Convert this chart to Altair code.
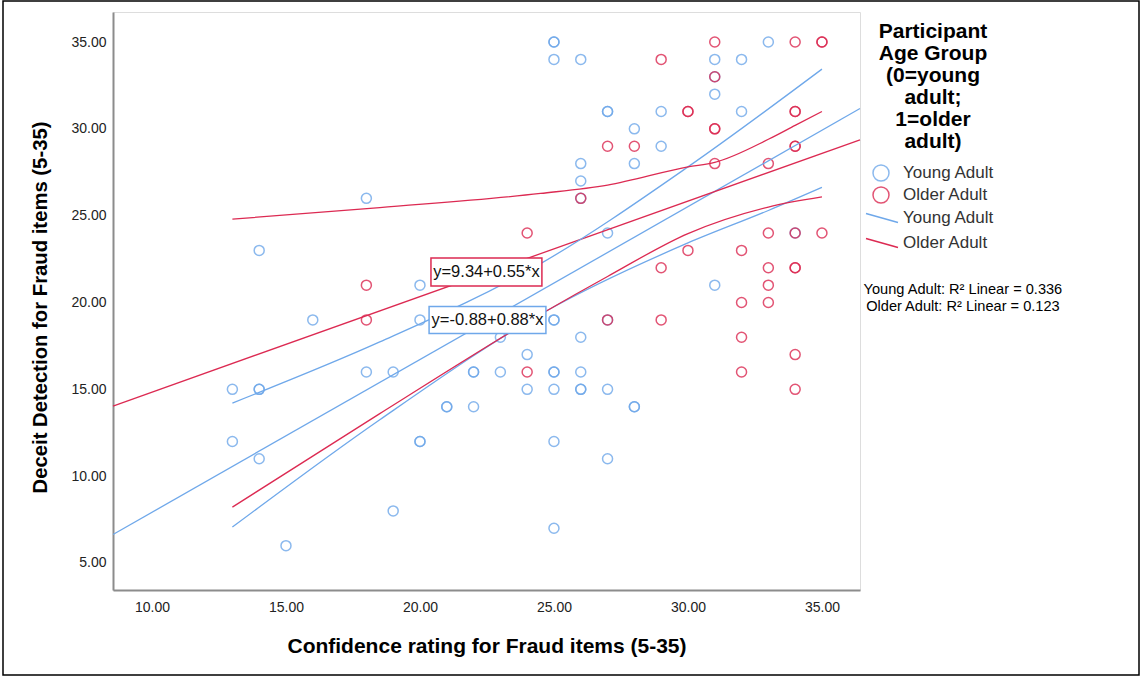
import altair as alt
import pandas as pd

BLUE = "#6fa8ea"
RED = "#dc2a52"
GROUPS = ["Young Adult", "Older Adult"]

# ---- scatter points (Confidence, Deceit detection) ----
young_x = [13, 13, 14, 14, 14, 14, 15, 16, 18, 18, 19, 19, 20, 20, 20, 20, 21, 21,
           22, 22, 22, 23, 23, 24, 24,
           25, 25, 25, 25, 25, 25, 25, 25, 25, 25,
           26, 26, 26, 26, 26, 26, 26, 26,
           27, 27, 27, 27, 27, 27, 28, 28, 28, 28, 29, 29,
           31, 31, 31, 31, 32, 32, 33, 34]
young_y = [15, 12, 23, 15, 15, 11, 6, 19, 26, 16, 16, 8, 21, 19, 12, 12, 14, 14,
           16, 16, 14, 18, 16, 17, 15,
           35, 35, 34, 19, 19, 16, 16, 15, 12, 7,
           34, 28, 27, 26, 18, 16, 15, 15,
           31, 31, 24, 19, 15, 11, 30, 28, 14, 14, 31, 29,
           34, 33, 32, 21, 34, 31, 35, 24]

older_x = [18, 18, 24, 24, 26, 27, 27, 28, 29, 29, 29, 30, 30, 30,
           31, 31, 31, 31, 31, 32, 32, 32, 32, 33, 33, 33, 33, 33,
           34, 34, 34, 34, 34, 34, 34, 34, 34, 34, 35, 35, 35]
older_y = [21, 19, 24, 16, 26, 29, 19, 29, 34, 22, 19, 31, 31, 23,
           35, 33, 30, 30, 28, 23, 20, 18, 16, 28, 24, 22, 21, 20,
           35, 31, 31, 29, 29, 24, 22, 22, 17, 15, 35, 35, 24]

# ---- fit lines (endpoints at the plot edges) ----
fit_x = [8.545, 36.42]
young_fit_y = [6.64, 31.17]
older_fit_y = [14.04, 29.37]

# ---- 95% mean confidence bands ----
young_up_x = [13, 18.5, 24.5, 30, 35]
young_up_y = [14.21, 17.73, 22.24, 27.81, 33.44]
young_lo_x = [13, 18.5, 24.7, 30, 33, 35]
young_lo_y = [7.07, 13.25, 19.5, 23.43, 25.3, 26.63]
older_up_x = [13, 18.5, 24.5, 27, 30, 31, 33, 34, 35]
older_up_y = [24.8, 25.47, 26.28, 26.76, 27.81, 28.07, 29.4, 30.2, 31.0]
older_lo_x = [13, 18.5, 24.7, 27, 30, 33, 35]
older_lo_y = [8.22, 13.6, 19.5, 21.5, 23.97, 25.5, 26.08]

# ---- equation labels ----
eq_text = ["y=9.34+0.55*x", "y=-0.88+0.88*x"]
eq_color = [RED, BLUE]
eq_x1 = [20.41, 20.34]
eq_x2 = [24.55, 24.70]
eq_y1 = [22.56, 19.77]
eq_y2 = [20.95, 18.22]

r2_text = ["Young Adult: R\u00b2 Linear = 0.336", "Older Adult: R\u00b2 Linear = 0.123"]
r2_x = [40.26, 40.26]
r2_y = [20.72, 19.74]

# ---------------- frames ----------------
pts = pd.concat([
    pd.DataFrame({"x": young_x, "y": young_y, "group": "Young Adult"}),
    pd.DataFrame({"x": older_x, "y": older_y, "group": "Older Adult"}),
])

def seg(xs, ys, group, kind):
    return pd.DataFrame({"x": xs, "y": ys, "group": group, "kind": kind,
                         "order": list(range(len(xs)))})

lines = pd.concat([
    seg(fit_x, young_fit_y, "Young Adult", "yfit"),
    seg(fit_x, older_fit_y, "Older Adult", "ofit"),
    seg(young_up_x, young_up_y, "Young Adult", "yup"),
    seg(young_lo_x, young_lo_y, "Young Adult", "ylo"),
    seg(older_up_x, older_up_y, "Older Adult", "oup"),
    seg(older_lo_x, older_lo_y, "Older Adult", "olo"),
])

boxes = pd.DataFrame({"x": eq_x1, "x2": eq_x2, "y": eq_y1, "y2": eq_y2,
                      "color": eq_color, "label": eq_text,
                      "cx": [(a + b) / 2 for a, b in zip(eq_x1, eq_x2)],
                      "cy": [(a + b) / 2 for a, b in zip(eq_y1, eq_y2)]})
r2 = pd.DataFrame({"x": r2_x, "y": r2_y, "label": r2_text})

FONT = "Liberation Sans"

xscale = alt.Scale(domain=[8.545, 36.42], nice=False, zero=False)
yscale = alt.Scale(domain=[3.445, 36.73], nice=False, zero=False)

xaxis = alt.Axis(values=[10, 15, 20, 25, 30, 35], format=".2f",
                 title="Confidence rating for Fraud items (5-35)",
                 ticks=False, grid=False, domainColor="#8c8c8c", domainWidth=2,
                 labelFontSize=14, labelColor="#222", labelPadding=10,
                 titleFontSize=21, titleFontWeight="bold", titleColor="black",
                 titlePadding=21)
yaxis = alt.Axis(values=[5, 10, 15, 20, 25, 30, 35], format=".2f",
                 title="Deceit Detection for Fraud items (5-35)",
                 ticks=False, grid=False, domainColor="#8c8c8c", domainWidth=2,
                 labelFontSize=14, labelColor="#222", labelPadding=7,
                 titleFontSize=20.3, titleFontWeight="bold", titleColor="black",
                 titlePadding=20, titleY=295)

color_scale = alt.Scale(domain=GROUPS, range=[BLUE, RED])

points = alt.Chart(pts).mark_point(shape="circle", filled=False, size=100,
                                   strokeWidth=1.5, opacity=0.8).encode(
    x=alt.X("x:Q", scale=xscale, axis=xaxis),
    y=alt.Y("y:Q", scale=yscale, axis=yaxis),
    color=alt.Color("group:N", scale=color_scale, legend=alt.Legend(
        title=["Participant", "Age Group", "(0=young", "adult;", "1=older", "adult)"],
        orient="none", legendX=759, legendY=9, padding=0,
        titleFontSize=21, titleFontWeight="bold", titleColor="black",
        titleAlign="center", titleAnchor="middle", titleLineHeight=22,
        titlePadding=12, labelFontSize=17, labelColor="#333", labelOffset=13,
        symbolSize=256, symbolStrokeWidth=1.5, symbolType="circle",
        rowPadding=0)),
)

line_layer = alt.Chart(lines).mark_line(strokeWidth=1.3, interpolate="monotone").encode(
    x="x:Q", y="y:Q",
    stroke=alt.Stroke("group:N", scale=color_scale, legend=alt.Legend(
        title=None, orient="none", legendX=752, legendY=189, padding=0,
        labelFontSize=17, labelColor="#333", labelOffset=4,
        symbolType="M-1,-0.28L1,0.28", symbolSize=1024, symbolStrokeWidth=1.5,
        rowPadding=-1)),
    detail="kind:N",
    order="order:Q",
)

box_layer = alt.Chart(boxes).mark_rect(fill="white", strokeWidth=1.5).encode(
    x="x:Q", x2="x2:Q", y="y:Q", y2="y2:Q",
    stroke=alt.Stroke("color:N", scale=None),
)
box_text = alt.Chart(boxes).mark_text(fontSize=16.5, font=FONT, color="#111").encode(
    x="cx:Q", y="cy:Q", text="label:N",
)
r2_layer = alt.Chart(r2).mark_text(fontSize=14.6, font=FONT, color="black").encode(
    x="x:Q", y="y:Q", text="label:N",
)

frame = alt.Chart(pd.DataFrame({"a": [0]})).mark_rect(
    fill=None, stroke="black", strokeWidth=1.5).encode(
    x=alt.value(-110), x2=alt.value(1026), y=alt.value(-11), y2=alt.value(663))

chart = alt.layer(points, line_layer, box_layer, box_text, r2_layer, frame).resolve_scale(
    color="independent", stroke="independent"
).properties(
    width=747, height=578,
    autosize=alt.AutoSizeParams(type="none"),
    padding={"left": 113, "top": 12, "right": 282, "bottom": 87},
    background="white",
).configure_view(stroke=None).configure(font=FONT)

chart.save("out.html", embed_options={"renderer": "svg", "actions": False})
